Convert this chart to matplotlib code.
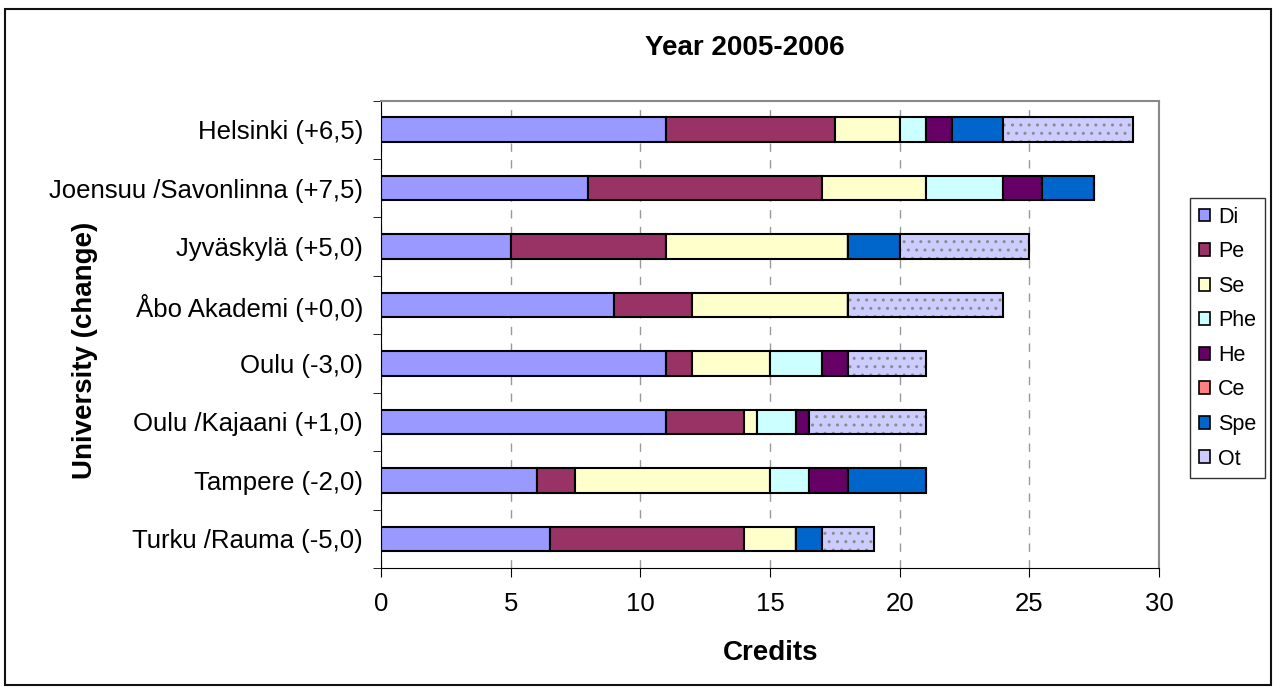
import numpy as np
import matplotlib.pyplot as plt
from matplotlib.patches import Rectangle, Patch

plt.rcParams['font.family'] = ['Liberation Sans', 'DejaVu Sans']
plt.rcParams['hatch.linewidth'] = 1.0

universities = ["Helsinki (+6,5)", "Joensuu /Savonlinna (+7,5)", "Jyväskylä (+5,0)",
                "Åbo Akademi (+0,0)", "Oulu (-3,0)", "Oulu /Kajaani (+1,0)",
                "Tampere (-2,0)", "Turku /Rauma (-5,0)"]
series = ["Di", "Pe", "Se", "Phe", "He", "Ce", "Spe", "Ot"]
di = [11, 8, 5, 9, 11, 11, 6, 6.5]
pe = [6.5, 9, 6, 3, 1, 3, 1.5, 7.5]
se = [2.5, 4, 7, 6, 3, 0.5, 7.5, 2]
phe = [1, 3, 0, 0, 2, 1.5, 1.5, 0]
he = [1, 1.5, 0, 0, 1, 0.5, 1.5, 0]
ce = [0, 0, 0, 0, 0, 0, 0, 0]
spe = [2, 2, 2, 0, 0, 0, 3, 1]
ot = [5, 0, 5, 6, 3, 4.5, 0, 2]
colors = ["#9999FF", "#993366", "#FFFFCC", "#CCFFFF", "#660066", "#FF8080", "#0066CC", "#CCCCFF"]

values = [di, pe, se, phe, he, ce, spe, ot]

fig = plt.figure(figsize=(12.75, 6.87), dpi=100)
fig.patches.append(Rectangle((0.0039, 0.0029), 0.9929, 0.984, transform=fig.transFigure,
                             fill=False, edgecolor='#111111', linewidth=1.5))
ax = fig.add_axes([0.2988, 0.1732, 0.6102, 0.6805])

y = np.arange(len(universities))
left = np.zeros(len(universities))
handles = []
for name, vals, col in zip(series, values, colors):
    vals = np.array(vals, dtype=float)
    if name == "Ot":
        # dotted fill in grey, then a black outline on top
        ax.barh(y, vals, left=left, height=0.42, color=col, edgecolor='#8c8c8c',
                linewidth=0, hatch='..')
        ax.barh(y, vals, left=left, height=0.42, fill=False, edgecolor='black',
                linewidth=1.5)
    else:
        ax.barh(y, vals, left=left, height=0.42, color=col, edgecolor='black',
                linewidth=1.5)
    handles.append(Patch(facecolor=col, edgecolor='black', linewidth=1.2, label=name))
    left += vals

ax.set_ylim(len(universities) - 0.5, -0.5)
ax.set_xlim(0, 30)
ax.set_xticks(np.arange(0, 31, 5))
ax.set_yticks(y)
ax.set_yticklabels(universities)
ax.set_yticks(np.arange(-0.5, len(universities)), minor=True)
ax.tick_params(axis='y', which='major', length=0, labelsize=18.5, pad=13)
ax.tick_params(axis='y', which='minor', length=6, direction='out')
ax.tick_params(axis='x', which='major', length=6.5, direction='out', labelsize=18.5, pad=11)
ax.xaxis.grid(True, linestyle=(0, (6, 6)), color='#999999', linewidth=1)
ax.set_axisbelow(True)
ax.spines['top'].set_color('#888888')
ax.spines['right'].set_color('#888888')
ax.spines['top'].set_linewidth(1.5)
ax.spines['right'].set_linewidth(1.5)

fig.text(0.5839, 0.930, "Year 2005-2006", fontsize=20, fontweight='bold',
         ha='center', va='center')
fig.text(0.6047, 0.0495, "Credits", fontsize=20, fontweight='bold',
         ha='center', va='center')
fig.text(0.0667, 0.4905, "University (change)", fontsize=20, fontweight='bold',
         rotation=90, ha='center', va='center')

leg = fig.legend(handles=handles, loc='upper left', bbox_to_anchor=(0.9333, 0.7118),
                 borderaxespad=0, fontsize=15.5, frameon=True, fancybox=False,
                 edgecolor='black', handlelength=0.55, handleheight=0.55,
                 handletextpad=0.35, labelspacing=0.63, borderpad=0.4)
leg.get_frame().set_linewidth(1.0)

fig.savefig("out.png", dpi=100)
